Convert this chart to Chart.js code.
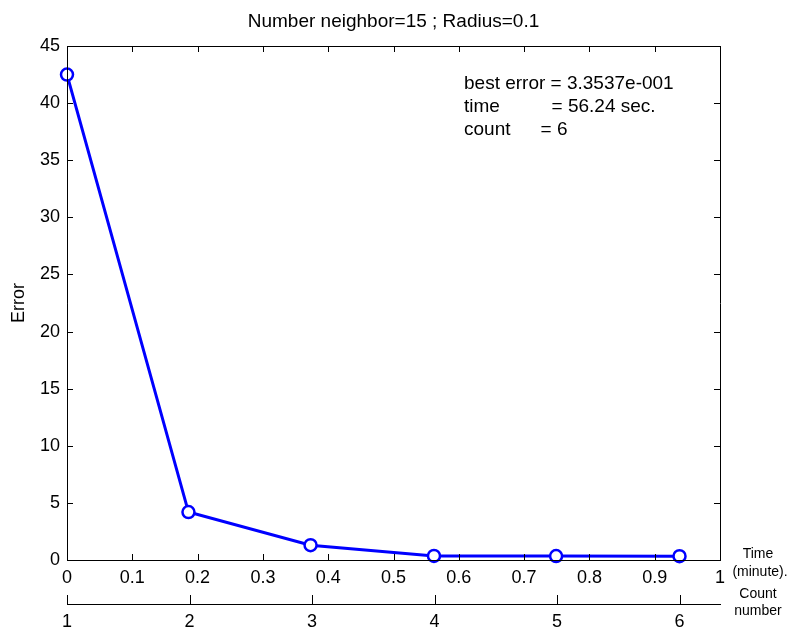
<!DOCTYPE html>
<html lang="en">
<head>
    <meta charset="UTF-8">
    <title>Number neighbor=15 ; Radius=0.1</title>
    <script src="https://cdn.jsdelivr.net/npm/chart.js"></script>
    <style>
        html, body {
            margin: 0;
            padding: 0;
            background-color: #fff;
        }

        .chart-box {
            width: 789px;
            height: 627px;
        }
    </style>
</head>
<body>
    <div class="chart-box">
        <canvas id="errorChart"></canvas>
    </div>

    <script>
        // values
        const timeMinutes = [0, 0.186, 0.373, 0.562, 0.749, 0.938];
        const countNumber = [1, 2, 3, 4, 5, 6];
        const errorValues = [42.5, 4.2, 1.3, 0.36, 0.34, 0.335];

        const xTicks = [0, 0.1, 0.2, 0.3, 0.4, 0.5, 0.6, 0.7, 0.8, 0.9, 1];
        const yTicks = [0, 5, 10, 15, 20, 25, 30, 35, 40, 45];
        const countTicks = [1, 2, 3, 4, 5, 6];

        const titleText = 'Number neighbor=15 ; Radius=0.1';
        const infoLines = [
            ['best error ', '= 3.3537e-001'],
            ['time', '= 56.24 sec.'],
            ['count', '= 6']
        ];

        // count axis shares the time axis: count 1 -> first time, count 6 -> last time
        const countPerMinute = (countNumber[5] - countNumber[0]) / (timeMinutes[5] - timeMinutes[0]);
        const countMin = countNumber[0] - timeMinutes[0] * countPerMinute;
        const countMax = countNumber[0] + (1 - timeMinutes[0]) * countPerMinute;

        const font = 'Arial, "Liberation Sans", sans-serif';

        function setTicks(list) {
            return function(scale) {
                scale.ticks = list.map(v => ({ value: v }));
            };
        }

        // box, inward ticks, title and text labels like the matlab figure
        const figurePlugin = {
            id: 'figure',
            afterDraw(chart) {
                const ctx = chart.ctx;
                const area = chart.chartArea;
                const x = chart.scales.x;
                const y = chart.scales.y;
                const c = chart.scales.count;
                const tick = 6;

                ctx.save();
                ctx.strokeStyle = '#000';
                ctx.lineWidth = 1;
                ctx.beginPath();
                ctx.rect(area.left + 0.5, area.top + 0.5, area.right - area.left, area.bottom - area.top);

                xTicks.forEach(v => {
                    const px = Math.round(x.getPixelForValue(v)) + 0.5;
                    ctx.moveTo(px, area.bottom);
                    ctx.lineTo(px, area.bottom - tick);
                    ctx.moveTo(px, area.top);
                    ctx.lineTo(px, area.top + tick);
                });
                yTicks.forEach(v => {
                    const py = Math.round(y.getPixelForValue(v)) + 0.5;
                    ctx.moveTo(area.left, py);
                    ctx.lineTo(area.left + tick, py);
                    ctx.moveTo(area.right, py);
                    ctx.lineTo(area.right - tick, py);
                });
                countTicks.forEach(v => {
                    const px = Math.round(c.getPixelForValue(v)) + 0.5;
                    ctx.moveTo(px, c.top);
                    ctx.lineTo(px, c.top - 9);
                });
                ctx.stroke();

                ctx.fillStyle = '#000';
                ctx.textBaseline = 'middle';
                ctx.textAlign = 'center';
                ctx.font = '19px ' + font;
                ctx.fillText(titleText, (area.left + area.right) / 2, 22);

                // the "=" of the lower lines sits under the one of the first line
                ctx.textAlign = 'left';
                const eqX = 464 + ctx.measureText(infoLines[0][0]).width;
                infoLines.forEach((line, i) => {
                    const ly = 84 + i * 23;
                    ctx.fillText(line[0], 464, ly);
                    ctx.fillText(line[1], eqX + [0, 1, -10][i], ly);
                });

                ctx.textAlign = 'center';
                ctx.font = '14px ' + font;
                ctx.fillText('Time', 758, 554);
                ctx.fillText('(minute).', 760, 572);
                ctx.fillText('Count', 758, 594);
                ctx.fillText('number', 758, 611);
                ctx.restore();
            }
        };

        const tickFont = { size: 18, family: font };

        const ctx = document.getElementById('errorChart').getContext('2d');
        const errorChart = new Chart(ctx, {
            type: 'line',
            data: {
                datasets: [{
                    label: 'Error',
                    data: timeMinutes.map((t, i) => ({ x: t, y: errorValues[i] })),
                    borderColor: '#0000ff',
                    borderWidth: 3,
                    pointRadius: 6,
                    pointBorderWidth: 2.5,
                    pointBorderColor: '#0000ff',
                    pointBackgroundColor: '#ffffff',
                    tension: 0,
                    clip: false
                }]
            },
            options: {
                responsive: true,
                maintainAspectRatio: false,
                animation: false,
                layout: {
                    padding: { top: 46, right: 69, left: 0, bottom: 0 }
                },
                plugins: {
                    legend: { display: false },
                    tooltip: { enabled: false }
                },
                scales: {
                    x: {
                        type: 'linear',
                        position: 'bottom',
                        min: 0,
                        max: 1,
                        afterBuildTicks: setTicks(xTicks),
                        afterFit(scale) { scale.height = 44; },
                        grid: { drawOnChartArea: false, drawTicks: false },
                        border: { color: '#000', width: 1 },
                        ticks: {
                            color: '#000',
                            font: tickFont,
                            padding: 7,
                            maxRotation: 0,
                            autoSkip: false,
                            callback: v => String(v)
                        }
                    },
                    count: {
                        type: 'linear',
                        position: 'bottom',
                        min: countMin,
                        max: countMax,
                        afterBuildTicks: setTicks(countTicks),
                        afterFit(scale) { scale.height = 23; },
                        grid: { drawOnChartArea: false, drawTicks: false },
                        border: { color: '#000', width: 1 },
                        ticks: {
                            color: '#000',
                            font: tickFont,
                            padding: 7,
                            maxRotation: 0,
                            autoSkip: false,
                            callback: v => String(v)
                        }
                    },
                    y: {
                        min: 0,
                        max: 45,
                        afterBuildTicks: setTicks(yTicks),
                        afterFit(scale) { scale.width = 67; },
                        grid: { drawOnChartArea: false, drawTicks: false },
                        border: { color: '#000', width: 1 },
                        title: {
                            display: true,
                            text: 'Error',
                            color: '#000',
                            font: { size: 18, family: font },
                            padding: { top: 8, bottom: 0 }
                        },
                        ticks: {
                            color: '#000',
                            font: tickFont,
                            padding: 7
                        }
                    }
                }
            },
            plugins: [figurePlugin]
        });
    </script>
</body>
</html>
